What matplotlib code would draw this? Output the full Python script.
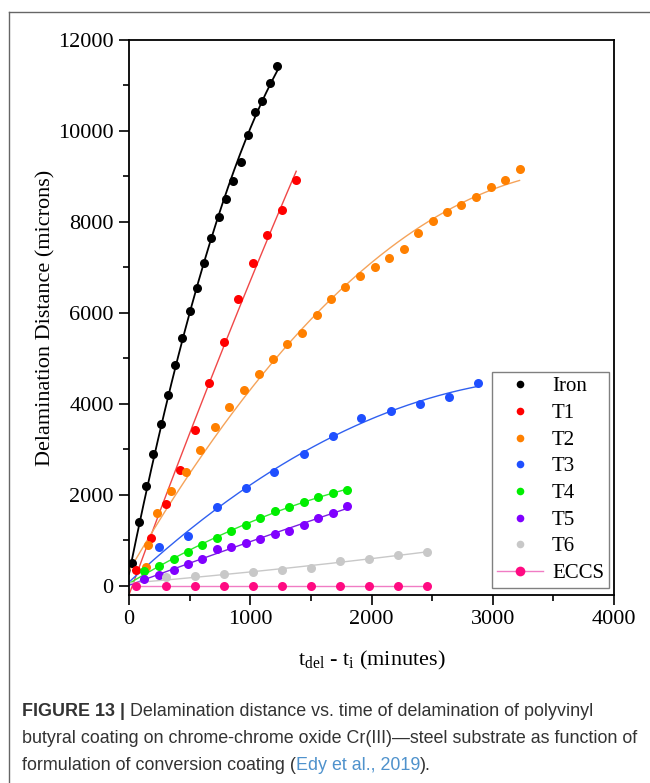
import numpy as np
import matplotlib
matplotlib.use('Agg')
import matplotlib.pyplot as plt
from matplotlib.lines import Line2D
from matplotlib.ticker import MultipleLocator

# ---------------- data ----------------
iron_x = [27, 82, 143, 200, 261, 321, 382, 440, 500, 561, 621, 676, 739, 800, 860, 921, 978, 1039, 1099, 1160, 1223]
iron_y = [498, 1400, 2205, 2900, 3553, 4198, 4855, 5455, 6048, 6557, 7106, 7655, 8110, 8505, 8908, 9312, 9912, 10411, 10659, 11062, 11429]

t1_x = [60, 182, 303, 420, 545, 660, 783, 900, 1020, 1138, 1261, 1379]
t1_y = [345, 1048, 1795, 2557, 3436, 4455, 5356, 6297, 7106, 7714, 8257, 8916]

t2_x = [137, 160, 231, 346, 470, 585, 709, 827, 948, 1069, 1187, 1306, 1427, 1548, 1665, 1783, 1904,
        2025, 2144, 2264, 2383, 2504, 2624, 2742, 2863, 2982, 3102, 3221]
t2_y = [410, 901, 1611, 2095, 2499, 2989, 3502, 3941, 4301, 4659, 4996, 5308, 5557, 5956, 6297, 6565, 6813,
        7011, 7209, 7407, 7766, 8015, 8213, 8367, 8556, 8769, 8916, 9165]

t3_x = [247, 484, 723, 962, 1198, 1440, 1680, 1916, 2158, 2399, 2638, 2875]
t3_y = [850, 1099, 1743, 2147, 2499, 2897, 3297, 3699, 3853, 4000, 4154, 4455]

t4_x = [125, 247, 369, 486, 604, 723, 843, 962, 1082, 1201, 1322, 1440, 1560, 1680, 1800]
t4_y = [336, 446, 600, 747, 901, 1055, 1209, 1341, 1501, 1648, 1743, 1843, 1949, 2051, 2099]

t5_x = [125, 247, 369, 486, 604, 723, 843, 962, 1082, 1201, 1322, 1440, 1560, 1680, 1800]
t5_y = [147, 242, 345, 490, 600, 806, 850, 945, 1040, 1143, 1198, 1345, 1495, 1597, 1750]

t6_x = [305, 545, 783, 1020, 1260, 1499, 1740, 1980, 2217, 2459]
t6_y = [205, 215, 255, 300, 345, 400, 549, 597, 690, 740]

eccs_x = [60, 305, 545, 785, 1025, 1265, 1500, 1740, 1980, 2218, 2459]
eccs_y = [0, 0, 0, 0, 0, 0, 0, 0, 0, 0, 0]

labels = ["Iron", "T1", "T2", "T3", "T4", "T5", "T6", "ECCS"]
marker_colors = ["#000000", "#FF0000", "#FF8000", "#1F4FFF", "#00EE00", "#8000FF", "#C8C8C8", "#FF0A82"]
line_colors = ["#000000", "#F04848", "#F5A35A", "#3060F0", "#30E830", "#7A20E0", "#C8C8C8", "#F07CC4"]

fit_data = [(iron_x, iron_y), (t1_x, t1_y), (t2_x, t2_y), (t3_x, t3_y),
            (t4_x, t4_y), (t5_x, t5_y), (t6_x, t6_y)]

x_ticks = [0, 1000, 2000, 3000, 4000]
y_ticks = [0, 2000, 4000, 6000, 8000, 10000, 12000]

# ---------------- styling ----------------
plt.rcParams['font.family'] = ['Liberation Serif', 'DejaVu Serif']
plt.rcParams['mathtext.fontset'] = 'custom'
plt.rcParams['mathtext.rm'] = 'Liberation Serif'
plt.rcParams['mathtext.it'] = 'Liberation Serif:italic'

fig = plt.figure(figsize=(6.5, 7.83), dpi=100)
ax = fig.add_axes([129/650, 1-595/783, (614-129)/650, (595-40)/783])

# fitted trend lines (quadratic least squares through the data and origin) + markers
for i, (xs, ys) in enumerate(fit_data):
    xa = np.array([0] + xs, dtype=float)
    ya = np.array([0] + ys, dtype=float)
    coef = np.polyfit(xa, ya, 2)
    xx = np.linspace(0, max(xs), 200)
    lw = 1.3 if i == 0 else 1.0
    ax.plot(xx, np.polyval(coef, xx), color=line_colors[i], lw=lw, zorder=2)
    ax.plot(xs, ys, 'o', color=marker_colors[i], ms=6.5, mec='none', zorder=3)

ax.plot(eccs_x, eccs_y, '-', color=line_colors[7], lw=1.0, zorder=2)
ax.plot(eccs_x, eccs_y, 'o', color=marker_colors[7], ms=6.5, mec='none', zorder=3)

ax.set_xlim(0, 4000)
ax.set_ylim(-200, 12000)
ax.set_xticks(x_ticks)
ax.set_yticks(y_ticks)
ax.xaxis.set_minor_locator(MultipleLocator(500))
ax.yaxis.set_minor_locator(MultipleLocator(1000))
ax.tick_params(which='both', direction='out', top=False, right=False, width=1.2)
ax.tick_params(which='major', length=7, labelsize=16, pad=4)
ax.tick_params(which='minor', length=4)
for sp in ax.spines.values():
    sp.set_linewidth(1.3)

ax.set_ylabel("Delamination Distance (microns)", fontsize=16, labelpad=2)
ax.set_xlabel(r"$\mathregular{t_{del}}$ - $\mathregular{t_i}$ (minutes)", fontsize=16, labelpad=14)

# legend
handles = []
for i in range(7):
    handles.append(Line2D([], [], ls='none', marker='o', color=marker_colors[i], ms=5.5, mec='none'))
handles.append(Line2D([], [], ls='-', lw=1.0, color=line_colors[7], marker='o',
                      mfc=marker_colors[7], mec='none', ms=7))
leg = ax.legend(handles, labels, loc='lower right', bbox_to_anchor=(0.99, 0.012),
                borderaxespad=0, fontsize=15, frameon=True, fancybox=False,
                edgecolor='#808080', framealpha=1, labelspacing=0.34,
                handlelength=2.2, handletextpad=0.45, borderpad=0.25)
leg.get_frame().set_linewidth(1.0)

# figure frame lines
fig.add_artist(Line2D([9/650, 9/650], [0, 1-12/783], transform=fig.transFigure, color='#666666', lw=1))
fig.add_artist(Line2D([9/650, 1], [1-12/783, 1-12/783], transform=fig.transFigure, color='#666666', lw=1))

# caption
cap_kw = dict(family=['Liberation Sans', 'DejaVu Sans'], fontsize=12.9, color='#333333')
x0 = 22/650
t1 = fig.text(x0, 1-720/783, "FIGURE 13 |", fontweight='bold', va='bottom', ha='left', **cap_kw)
ax.annotate(" Delamination distance vs. time of delamination of polyvinyl", xy=(1, 0), xycoords=t1,
            va='bottom', ha='left', annotation_clip=False, **cap_kw)
fig.text(x0, 1-747/783, "butyral coating on chrome-chrome oxide Cr(III)\u2014steel substrate as function of",
         va='bottom', ha='left', **cap_kw)
t3 = fig.text(x0, 1-774/783, "formulation of conversion coating (", va='bottom', ha='left', **cap_kw)
kw_blue = dict(cap_kw)
kw_blue['color'] = '#4F92CC'
t4 = ax.annotate("Edy et al., 2019", xy=(1, 0), xycoords=t3, va='bottom', ha='left',
                 annotation_clip=False, **kw_blue)
ax.annotate(").", xy=(1, 0), xycoords=t4, va='bottom', ha='left', annotation_clip=False, **cap_kw)

fig.savefig("out.png", dpi=100)
